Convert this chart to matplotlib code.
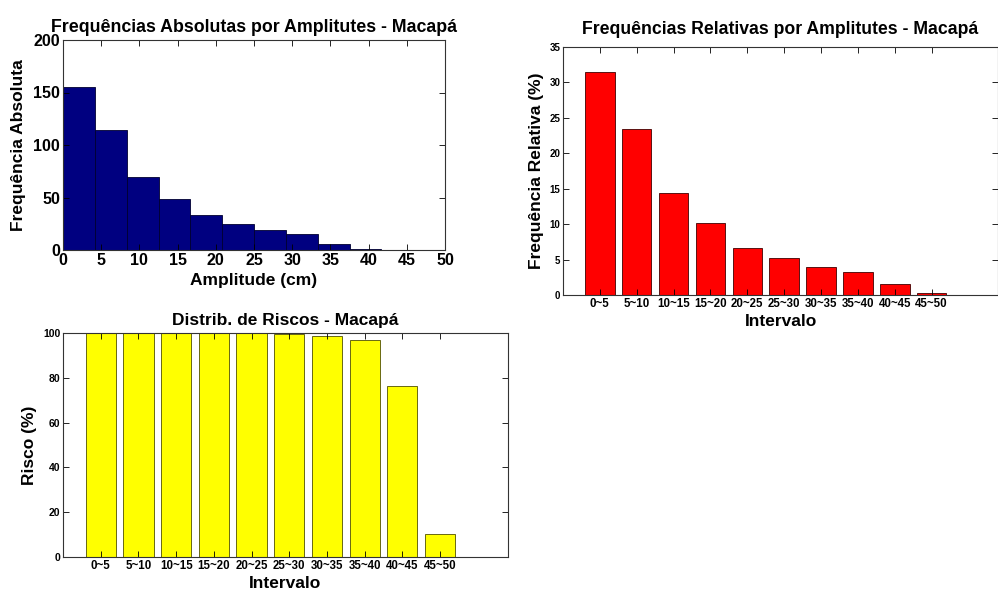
import matplotlib
matplotlib.use("Agg")
import matplotlib.pyplot as plt
import numpy as np

plt.rcParams['font.family'] = ['Liberation Sans', 'DejaVu Sans']
plt.rcParams['font.weight'] = 'bold'

# histogram of amplitudes
bin_edges = [0, 4.17, 8.34, 12.5, 16.67, 20.84, 25.0, 29.17, 33.34, 37.5, 41.67]
abs_counts = [155, 114, 70, 49, 33, 25, 19, 15, 6, 1]

# relative frequencies and risks per interval
intervals = ['0~5', '5~10', '10~15', '15~20', '20~25', '25~30',
             '30~35', '35~40', '40~45', '45~50']
rel_freq = [31.5, 23.4, 14.4, 10.1, 6.7, 5.2, 3.9, 3.3, 1.5, 0.3]
risk = [100, 100, 100, 100, 100, 99.7, 98.5, 96.7, 76.2, 10.2]

W, H = 998, 592
fig = plt.figure(figsize=(W / 100, H / 100), dpi=100)


def box(l, t, r, b):
    return [l / W, (H - b) / H, (r - l) / W, (b - t) / H]


def matlab_ticks(ax, xsize, ysize):
    ax.tick_params(direction='in', top=True, right=True, length=4,
                   width=0.6, pad=2)
    ax.tick_params(axis='x', labelsize=xsize)
    ax.tick_params(axis='y', labelsize=ysize)
    for lab in ax.get_xticklabels() + ax.get_yticklabels():
        lab.set_fontweight('bold')
    for s in ax.spines.values():
        s.set_linewidth(0.8)
        s.set_color('#333333')


# --- absolute frequencies ---
ax1 = fig.add_axes(box(63, 40, 445, 250))
ax1.bar(bin_edges[:-1], abs_counts, width=np.diff(bin_edges), align='edge',
        color='#000080', edgecolor='#000030', linewidth=0.6)
ax1.set_xlim(0, 50)
ax1.set_ylim(0, 200)
ax1.set_xticks(np.arange(0, 51, 5))
ax1.set_yticks([0, 50, 100, 150, 200])
ax1.set_title('Frequências Absolutas por Amplitutes - Macapá',
              fontsize=12.8, fontweight='bold', pad=6)
ax1.set_xlabel('Amplitude (cm)', fontsize=12.5, fontweight='bold', labelpad=4)
ax1.set_ylabel('Frequência Absoluta', fontsize=12.5, fontweight='bold', labelpad=5)
matlab_ticks(ax1, 11.5, 11.5)

# --- relative frequencies ---
ax2 = fig.add_axes(box(563, 47, 998, 295))
x = np.arange(1, len(intervals) + 1)
ax2.bar(x, rel_freq, width=0.8, color='#ff0000', edgecolor='#400000',
        linewidth=0.6)
ax2.set_xlim(0, 11.8)
ax2.set_ylim(0, 35)
ax2.set_xticks(x)
ax2.set_xticklabels(intervals)
ax2.set_yticks(np.arange(0, 36, 5))
ax2.set_title('Frequências Relativas por Amplitutes - Macapá',
              fontsize=12.7, fontweight='bold', pad=9)
ax2.set_xlabel('Intervalo', fontsize=12.5, fontweight='bold', labelpad=3)
ax2.set_ylabel('Frequência Relativa (%)', fontsize=12.5, fontweight='bold',
               labelpad=4)
matlab_ticks(ax2, 8.3, 7)

# --- risk distribution ---
ax3 = fig.add_axes(box(63, 333, 508, 557))
ax3.bar(x, risk, width=0.8, color='#ffff00', edgecolor='#505000',
        linewidth=0.6)
ax3.set_xlim(0, 11.8)
ax3.set_ylim(0, 100)
ax3.set_xticks(x)
ax3.set_xticklabels(intervals)
ax3.set_yticks(np.arange(0, 101, 20))
ax3.set_title('Distrib. de Riscos - Macapá', fontsize=12.5,
              fontweight='bold', pad=6)
ax3.set_xlabel('Intervalo', fontsize=12.5, fontweight='bold', labelpad=3)
ax3.set_ylabel('Risco (%)', fontsize=12.5, fontweight='bold', labelpad=4)
matlab_ticks(ax3, 8.3, 7.5)

fig.savefig('out.png', dpi=100)
